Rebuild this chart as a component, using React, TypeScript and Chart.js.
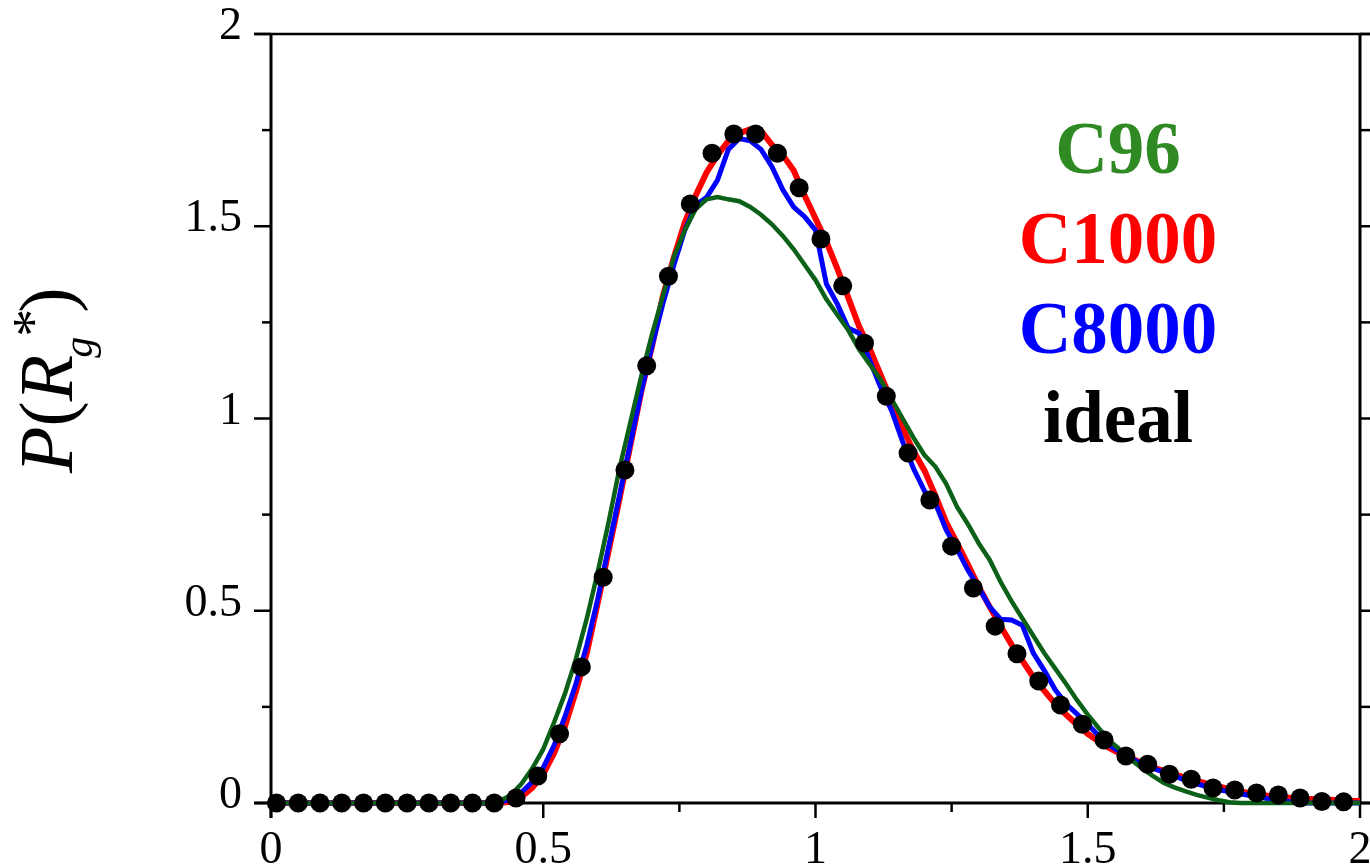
import React, { useEffect, useRef } from "react";
import { Chart, registerables } from "chart.js";

Chart.register(...registerables);

// x grid (R_g*) for the simulated curves
const gridX = [
  0, 0.02, 0.04, 0.06, 0.08, 0.1, 0.12, 0.14, 0.16, 0.18, 0.2, 0.22, 0.24, 0.26, 0.28, 0.3, 0.32, 0.34, 0.36, 0.38,
  0.4, 0.42, 0.44, 0.46, 0.48, 0.5, 0.52, 0.54, 0.56, 0.58, 0.6, 0.62, 0.64, 0.66, 0.68, 0.7, 0.72, 0.74, 0.76, 0.78,
  0.8, 0.82, 0.84, 0.86, 0.88, 0.9, 0.92, 0.94, 0.96, 0.98, 1.0, 1.02, 1.04, 1.06, 1.08, 1.1, 1.12, 1.14, 1.16, 1.18,
  1.2, 1.22, 1.24, 1.26, 1.28, 1.3, 1.32, 1.34, 1.36, 1.38, 1.4, 1.42, 1.44, 1.46, 1.48, 1.5, 1.52, 1.54, 1.56, 1.58,
  1.6, 1.62, 1.64, 1.66, 1.68, 1.7, 1.72, 1.74, 1.76, 1.78, 1.8, 1.82, 1.84, 1.86, 1.88, 1.9, 1.92, 1.94, 1.96, 1.98, 2.0,
];

const c96 = [
  0, 0, 0, 0, 0, 0, 0, 0, 0, 0, 0, 0, 0, 0, 0, 0, 0, 0, 0, 0,
  0, 0.005, 0.02, 0.05, 0.09, 0.14, 0.21, 0.285, 0.375, 0.48, 0.6, 0.73, 0.87, 0.99, 1.11, 1.22, 1.32, 1.42, 1.49, 1.545,
  1.57, 1.576, 1.57, 1.565, 1.55, 1.53, 1.505, 1.475, 1.44, 1.4, 1.36, 1.31, 1.27, 1.23, 1.18, 1.14, 1.1, 1.05, 1.0, 0.95,
  0.905, 0.875, 0.83, 0.77, 0.725, 0.675, 0.632, 0.575, 0.525, 0.48, 0.435, 0.39, 0.35, 0.31, 0.268, 0.23, 0.195, 0.162, 0.138, 0.112,
  0.09, 0.07, 0.052, 0.04, 0.03, 0.021, 0.014, 0.007, 0.002, 0, 0, 0, 0, 0, 0, 0, 0, 0, 0, 0, 0,
];

const c1000 = [
  0, 0, 0, 0, 0, 0, 0, 0, 0, 0, 0, 0, 0, 0, 0, 0, 0, 0, 0, 0,
  0, 0, 0.004, 0.016, 0.04, 0.075, 0.13, 0.2, 0.29, 0.39, 0.52, 0.655, 0.79, 0.93, 1.07, 1.19, 1.32, 1.42, 1.51, 1.58,
  1.64, 1.685, 1.722, 1.742, 1.752, 1.748, 1.712, 1.685, 1.645, 1.58, 1.52, 1.46, 1.39, 1.315, 1.24, 1.18, 1.112, 1.045, 0.975, 0.915,
  0.865, 0.8, 0.73, 0.676, 0.62, 0.562, 0.51, 0.46, 0.412, 0.37, 0.328, 0.292, 0.258, 0.23, 0.204, 0.18, 0.16, 0.143, 0.128, 0.116,
  0.104, 0.093, 0.083, 0.074, 0.066, 0.058, 0.05, 0.043, 0.036, 0.03, 0.025, 0.021, 0.017, 0.014, 0.013, 0.011, 0.01, 0.009, 0.007, 0.006, 0.005,
];

const c8000 = [
  0, 0, 0, 0, 0, 0, 0, 0, 0, 0, 0, 0, 0, 0, 0, 0, 0, 0, 0, 0,
  0, 0.002, 0.01, 0.028, 0.055, 0.092, 0.15, 0.225, 0.31, 0.41, 0.53, 0.665, 0.8, 0.935, 1.07, 1.19, 1.3, 1.4, 1.49, 1.555,
  1.575, 1.62, 1.7, 1.728, 1.722, 1.7, 1.655, 1.595, 1.55, 1.525, 1.49, 1.35, 1.298, 1.235, 1.222, 1.15, 1.08, 1.02, 0.94, 0.87,
  0.812, 0.78, 0.71, 0.66, 0.605, 0.56, 0.51, 0.478, 0.476, 0.462, 0.39, 0.345, 0.295, 0.258, 0.232, 0.205, 0.175, 0.15, 0.132, 0.115,
  0.101, 0.09, 0.08, 0.07, 0.059, 0.05, 0.042, 0.035, 0.029, 0.024, 0.019, 0.014, 0.009, 0.005, 0.002, 0, 0, 0, 0, 0, 0,
];

// ideal chain (symbols)
const idealX = [
  0.01, 0.05, 0.09, 0.13, 0.17, 0.21, 0.25, 0.29, 0.33, 0.37, 0.41, 0.45, 0.49, 0.53, 0.57, 0.61, 0.65, 0.69, 0.73, 0.77,
  0.81, 0.85, 0.89, 0.93, 0.97, 1.01, 1.05, 1.09, 1.13, 1.17, 1.21, 1.25, 1.29, 1.33, 1.37, 1.41, 1.45, 1.49, 1.53, 1.57,
  1.61, 1.65, 1.69, 1.73, 1.77, 1.81, 1.85, 1.89, 1.93, 1.97,
];
const idealY = [
  0, 0, 0, 0, 0, 0, 0, 0, 0, 0, 0, 0.013, 0.07, 0.18, 0.354, 0.587, 0.866, 1.137, 1.37, 1.558,
  1.69, 1.74, 1.74, 1.69, 1.6, 1.467, 1.345, 1.196, 1.058, 0.91, 0.788, 0.668, 0.559, 0.46, 0.388, 0.317, 0.255, 0.205, 0.164, 0.122,
  0.101, 0.075, 0.062, 0.039, 0.034, 0.026, 0.021, 0.013, 0.004, 0.003,
];

const legendLabels = ["C96", "C1000", "C8000", "ideal"];
const legendColors = ["#2f8a24", "#ff0000", "#0000ff", "#000000"];
const minorTicks = [0, 0.25, 0.5, 0.75, 1, 1.25, 1.5, 1.75, 2];

const SERIF = '"Liberation Serif", "Times New Roman", serif';

const toPts = (xs: number[], ys: number[]) => xs.map((x, i) => ({ x, y: ys[i] }));

const decorPlugin = {
  id: "decor",
  beforeDatasetsDraw(chart: any) {
    const { ctx, chartArea: a, scales } = chart;
    const xs = scales.x;
    const ys = scales.y;
    const W = chart.width;
    const seg = (x1: number, y1: number, x2: number, y2: number) => {
      ctx.beginPath();
      ctx.moveTo(x1, y1);
      ctx.lineTo(x2, y2);
      ctx.stroke();
    };
    ctx.save();
    ctx.strokeStyle = "#000";
    ctx.lineCap = "butt";
    ctx.lineWidth = 3;
    seg(a.left, a.top, a.left, a.bottom + 15);
    seg(a.left - 17, a.bottom, W, a.bottom);
    seg(a.right, a.top, a.right, a.bottom);
    ctx.lineWidth = 2.5;
    seg(a.left - 17, a.top, W, a.top);
    ctx.lineWidth = 2.5;
    for (const v of minorTicks) {
      const major = Math.abs(v * 2 - Math.round(v * 2)) < 1e-6;
      const py = ys.getPixelForValue(v);
      seg(a.left - (major ? 17 : 9), py, a.left, py);
      seg(a.right, py, a.right + 10, py);
      const px = xs.getPixelForValue(v);
      seg(px, a.bottom, px, a.bottom + (major ? 15 : 9));
    }
    ctx.restore();
  },
  afterDatasetsDraw(chart: any) {
    const { ctx } = chart;
    ctx.save();
    // legend text
    ctx.font = `bold 73px ${SERIF}`;
    ctx.textAlign = "center";
    ctx.textBaseline = "alphabetic";
    const baselines = [173, 263, 353, 442];
    legendLabels.forEach((t, i) => {
      ctx.fillStyle = legendColors[i];
      ctx.fillText(t, 1118, baselines[i]);
    });
    ctx.restore();

    // y-axis title P(R_g*)
    ctx.save();
    ctx.translate(72, 473);
    ctx.rotate(-Math.PI / 2);
    ctx.fillStyle = "#000";
    ctx.textAlign = "left";
    ctx.textBaseline = "alphabetic";
    let s = 0;
    const put = (t: string, font: string, dy: number, kern = 0) => {
      ctx.font = font;
      s += kern;
      ctx.fillText(t, s, dy);
      s += ctx.measureText(t).width;
    };
    put("P", `italic 76px ${SERIF}`, 0);
    put("(", `76px ${SERIF}`, 0);
    put("R", `italic 76px ${SERIF}`, 0);
    put("g", `italic 42px ${SERIF}`, 20, -3);
    put("*", `56px ${SERIF}`, -20, 0);
    put(")", `76px ${SERIF}`, 0, -4);
    ctx.restore();
  },
};

const fmt = (v: any) => String(Number(v));

export default function App() {
  const ref = useRef<HTMLCanvasElement>(null);
  useEffect(() => {
    if (!ref.current) return;
    const chart = new Chart(ref.current, {
      type: "scatter",
      data: {
        datasets: [
          {
            label: "ideal",
            data: toPts(idealX, idealY),
            showLine: false,
            pointRadius: 9.5,
            pointBackgroundColor: "#000",
            pointBorderColor: "#000",
            pointBorderWidth: 0,
            clip: false,
          } as any,
          {
            label: "C96",
            data: toPts(gridX, c96),
            showLine: true,
            borderColor: "#0b6118",
            borderWidth: 4.5,
            pointRadius: 0,
            tension: 0,
            clip: false,
          },
          {
            label: "C8000",
            data: toPts(gridX, c8000),
            showLine: true,
            borderColor: "#0000ff",
            borderWidth: 5,
            pointRadius: 0,
            tension: 0,
            clip: false,
          },
          {
            label: "C1000",
            data: toPts(gridX, c1000),
            showLine: true,
            borderColor: "#ff0000",
            borderWidth: 6,
            pointRadius: 0,
            tension: 0,
            clip: false,
          },
        ],
      },
      options: {
        responsive: false,
        animation: false,
        events: [],
        layout: { padding: { top: 34, right: 10, bottom: 0, left: 0 } },
        plugins: { legend: { display: false }, tooltip: { enabled: false }, title: { display: false } },
        scales: {
          x: {
            type: "linear",
            position: "bottom",
            min: 0,
            max: 2,
            grid: { display: false, drawTicks: false },
            border: { display: false },
            ticks: {
              stepSize: 0.5,
              autoSkip: false,
              maxRotation: 0,
              padding: 20,
              color: "#000",
              font: { family: SERIF, size: 46 },
              callback: fmt,
            },
            afterFit(scale: any) {
              scale.height = 63;
              scale.paddingLeft = 0;
              scale.paddingRight = 0;
            },
          },
          y: {
            type: "linear",
            min: 0,
            max: 2,
            grid: { display: false, drawTicks: false },
            border: { display: false },
            ticks: {
              stepSize: 0.5,
              padding: 29,
              labelOffset: -7,
              color: "#000",
              font: { family: SERIF, size: 46 },
              callback: fmt,
            },
            afterFit(scale: any) {
              scale.width = 271;
              scale.paddingTop = 0;
              scale.paddingBottom = 0;
            },
          },
        },
      },
      plugins: [decorPlugin],
    } as any);
    return () => chart.destroy();
  }, []);
  return (
    <canvas
      ref={ref}
      width={1370}
      height={866}
      style={{ position: "absolute", left: 0, top: 0, width: 1370, height: 866 }}
    />
  );
}
